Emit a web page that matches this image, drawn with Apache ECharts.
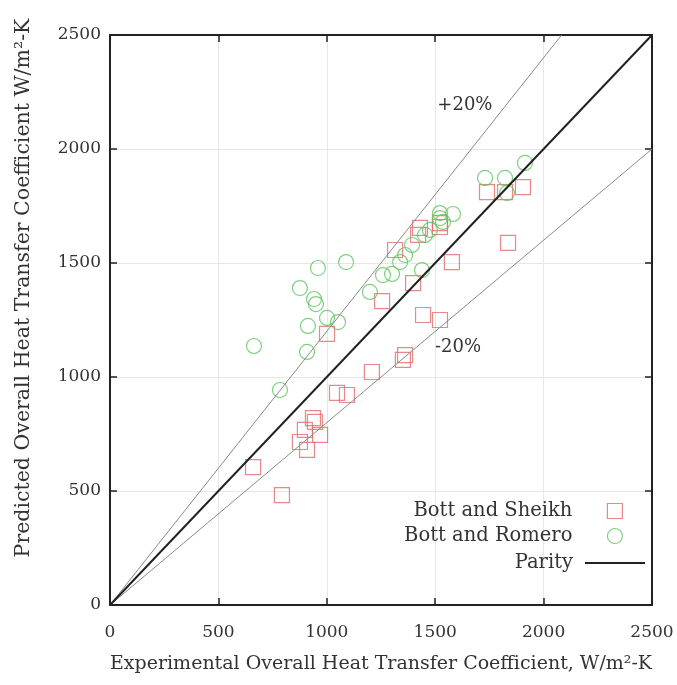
<!DOCTYPE html>
<html><head><meta charset="utf-8">
<script src="https://cdn.jsdelivr.net/npm/echarts@6/dist/echarts.min.js"></script>
<style>html,body{margin:0;padding:0;background:#fff}#c{width:677px;height:685px}</style>
</head><body><div id="c"></div>
<script>
// ---- data ----
const axisMin = 0, axisMax = 2500, axisStep = 500;
const sheikhX = [660, 793, 876, 909, 899, 936, 969, 945, 1001, 1047, 1093, 1208, 1255, 1315, 1398, 1444, 1522, 1361, 1351, 1430, 1421, 1522, 1522, 1577, 1739, 1822, 1905, 1836];
const sheikhY = [605, 482, 715, 680, 768, 820, 746, 803, 1189, 930, 921, 1022, 1333, 1557, 1412, 1272, 1250, 1096, 1075, 1654, 1623, 1675, 1658, 1504, 1811, 1811, 1833, 1588];
const romeroX = [664, 784, 876, 959, 1089, 941, 950, 1001, 1052, 913, 909, 1199, 1259, 1301, 1338, 1361, 1393, 1439, 1453, 1476, 1522, 1536, 1582, 1730, 1822, 1831, 1914, 1522];
const romeroY = [1136, 943, 1390, 1478, 1504, 1342, 1320, 1259, 1241, 1224, 1110, 1373, 1447, 1452, 1504, 1535, 1579, 1469, 1623, 1645, 1697, 1680, 1715, 1873, 1873, 1807, 1939, 1719];
const parityX = [0, 2500], parityY = [0, 2500];
const plus20X = [0, 2083], plus20Y = [0, 2500];
const minus20X = [0, 2500], minus20Y = [0, 2000];
const annText = ['+20%', '-20%'];
const annX = [1637, 1605];
const annY = [2193, 1132];
const names = ['Bott and Sheikh', 'Bott and Romero', 'Parity'];
const xTitle = 'Experimental Overall Heat Transfer Coefficient, W/m²-K';
const yTitle = 'Predicted Overall Heat Transfer Coefficient W/m²-K';

const zip = (a, b) => a.map((v, i) => [v, b[i]]);
const ff = 'DejaVu Serif';
const txt = '#333';
const red = '#e26a6a', green = '#62c462';

const chart = echarts.init(document.getElementById('c'), null, {renderer: 'canvas'});
const baseAxis = {
  min: axisMin, max: axisMax, interval: axisStep,
  axisLine: {show: true, onZero: false, lineStyle: {color: '#222', width: 2}},
  axisTick: {show: true, inside: true, length: 7, lineStyle: {color: '#222', width: 1.5}},
};
const mirror = Object.assign({}, baseAxis, {axisLabel: {show: false}, splitLine: {show: false}});
const mainSplit = {show: true, lineStyle: {color: '#e9e6e6', width: 1}};
const plain = v => String(v);

chart.setOption({
  animation: false,
  backgroundColor: '#fff',
  grid: {left: 110, right: 25, top: 35, bottom: 80},
  xAxis: [
    Object.assign({}, baseAxis, {
      type: 'value', position: 'bottom',
      axisLabel: {color: txt, fontFamily: ff, fontSize: 17, margin: 19, formatter: plain},
      splitLine: mainSplit,
      name: xTitle, nameLocation: 'middle', nameGap: 50,
      nameTextStyle: {color: txt, fontFamily: ff, fontSize: 19}
    }),
    Object.assign({}, mirror, {type: 'value', position: 'top'})
  ],
  yAxis: [
    Object.assign({}, baseAxis, {
      type: 'value', position: 'left',
      axisLabel: {color: txt, fontFamily: ff, fontSize: 17, margin: 9, formatter: plain},
      splitLine: mainSplit,
      name: yTitle, nameLocation: 'middle', nameGap: 76,
      nameTextStyle: {color: txt, fontFamily: ff, fontSize: 20.5, padding: [0, 0, 0, 64]}
    }),
    Object.assign({}, mirror, {type: 'value', position: 'right'})
  ],
  legend: [
    {data: [{name: names[0], icon: 'rect', itemStyle: {color: 'rgba(0,0,0,0)', borderColor: red, borderWidth: 1.2}}],
     orient: 'vertical', align: 'right', right: 54, top: 501, padding: 0, itemWidth: 15, itemHeight: 15,
     textStyle: {color: txt, fontFamily: ff, fontSize: 19.5, padding: [0, 30, 0, 0]}},
    {data: [{name: names[1], icon: 'circle', itemStyle: {color: 'rgba(0,0,0,0)', borderColor: green, borderWidth: 1.2}}],
     orient: 'vertical', align: 'right', right: 54, top: 526, padding: 0, itemWidth: 15, itemHeight: 15,
     textStyle: {color: txt, fontFamily: ff, fontSize: 19.5, padding: [0, 30, 0, 0]}},
    {data: [{name: names[2], icon: 'rect', itemStyle: {color: '#222'}}],
     orient: 'vertical', align: 'right', right: 32, top: 553, padding: 0, itemWidth: 60, itemHeight: 2,
     textStyle: {color: txt, fontFamily: ff, fontSize: 19.5, padding: [0, 7, 0, 0]}}
  ],
  series: [
    {type: 'line', name: '+20', data: zip(plus20X, plus20Y), symbol: 'none', silent: true,
     lineStyle: {color: '#8a8a8a', width: 1},
     markPoint: {symbol: 'circle', symbolSize: 0, data: [{coord: [annX[0], annY[0]], value: annText[0]}],
       label: {show: true, formatter: annText[0], color: txt, fontFamily: ff, fontSize: 18}}},
    {type: 'line', name: '-20', data: zip(minus20X, minus20Y), symbol: 'none', silent: true,
     lineStyle: {color: '#8a8a8a', width: 1},
     markPoint: {symbol: 'circle', symbolSize: 0, data: [{coord: [annX[1], annY[1]], value: annText[1]}],
       label: {show: true, formatter: annText[1], color: txt, fontFamily: ff, fontSize: 18}}},
    {type: 'line', name: names[2], data: zip(parityX, parityY), symbol: 'none',
     lineStyle: {color: '#222', width: 2}, itemStyle: {color: '#222'}},
    {type: 'scatter', name: names[0], data: zip(sheikhX, sheikhY), symbol: 'rect', symbolSize: 15,
     itemStyle: {color: 'rgba(0,0,0,0)', borderColor: red, borderWidth: 1.2}},
    {type: 'scatter', name: names[1], data: zip(romeroX, romeroY), symbol: 'circle', symbolSize: 15,
     itemStyle: {color: 'rgba(0,0,0,0)', borderColor: green, borderWidth: 1.2}}
  ]
});
</script></body></html>
